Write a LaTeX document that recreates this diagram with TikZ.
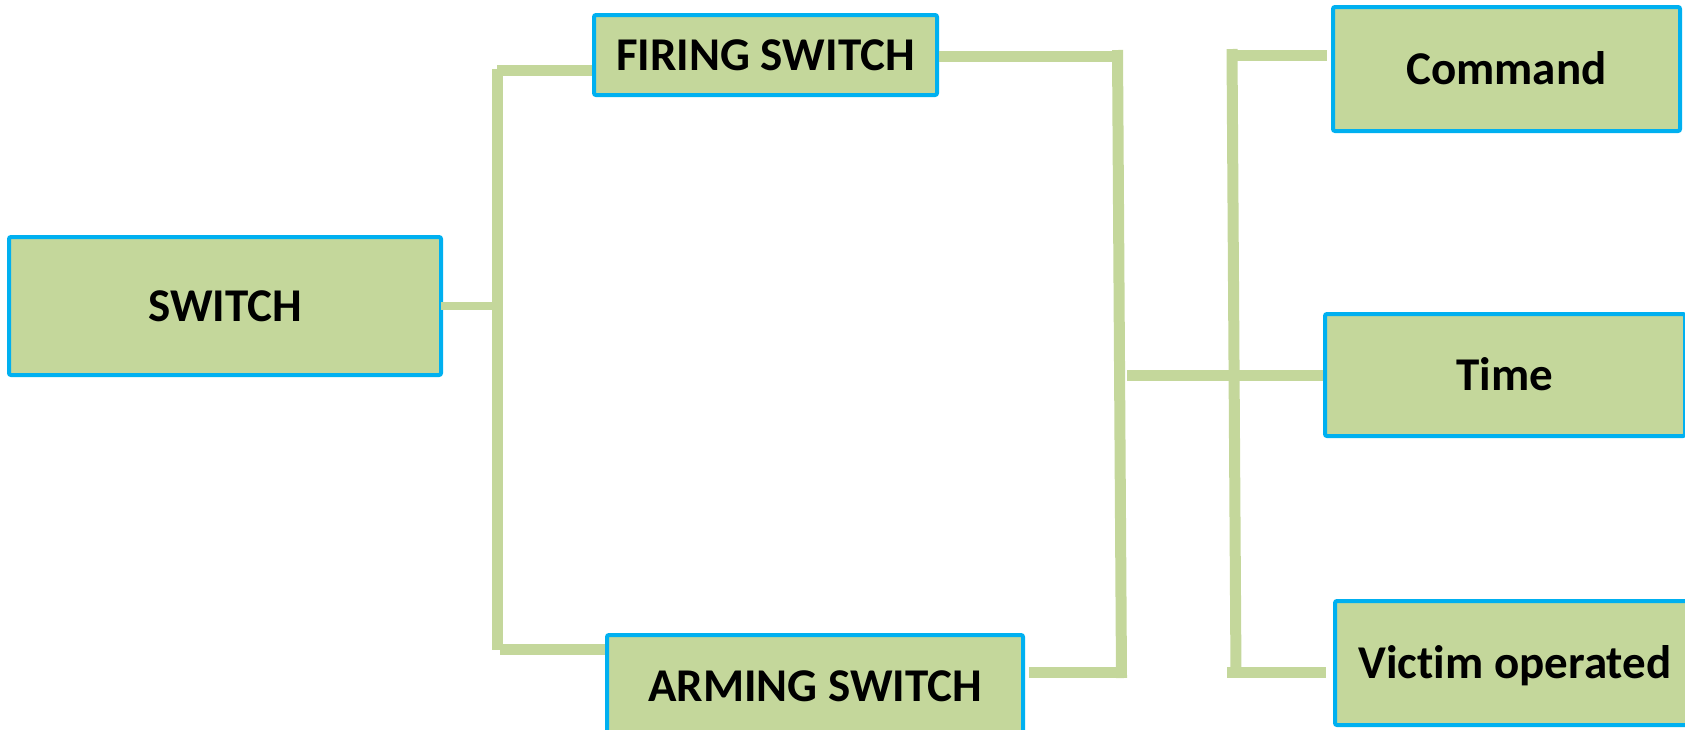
\documentclass[tikz,border=0pt]{standalone}
\usepackage{fontspec}
\setmainfont{Carlito}[Ligatures={NoCommon},RawFeature={-liga;-clig;-dlig;-calt}]
\definecolor{boxgreen}{HTML}{C4D79B}
\definecolor{boxblue}{HTML}{00B0F0}
\tikzset{
  box/.style={draw=boxblue, line width=2pt, fill=boxgreen, rounded corners=1pt,
    inner sep=0pt, font=\bfseries\fontsize{23.5}{28}\selectfont,
    text height=15.1pt, text depth=0pt},
  link/.style={draw=boxgreen, line width=5.5pt, line cap=butt},
  stub/.style={draw=boxgreen, line width=4pt, line cap=butt},
}
\begin{document}
\begin{tikzpicture}[x=0.5pt,y=-0.5pt]
\useasboundingbox (0,0) rectangle (1685,729);
\clip (0,0) rectangle (1685,729);
% boxes
\node[box, minimum width=216pt, minimum height=69pt] (sw) at (225,306) {SWITCH};
\node[box, minimum width=171.5pt, minimum height=40pt] (fire) at (765.5,55) {FIRING SWITCH};
\node[box, minimum width=208pt, minimum height=51pt] (arm) at (815,686) {ARMING SWITCH};
\node[box, minimum width=173.5pt, minimum height=62pt] (cmd) at (1506.5,69) {Command};
\node[box, minimum width=180pt, minimum height=61pt] (time) at (1505,375) {Time};
\node[box, minimum width=180pt, minimum height=62pt] (vic) at (1515,663) {Vict\kern0pt im operated};
% junction coordinates
\coordinate (l0) at (497,306);
\coordinate (lt) at (497,69);
\coordinate (lb) at (497,649.5);
\coordinate (lt2) at (497,70);
\coordinate (lb2) at (500,649.5);
\coordinate (mt) at (1117.5,50);
\coordinate (mb) at (1121.5,678);
\coordinate (mf) at (1123,56);
\coordinate (ma) at (1127,672);
\coordinate (mm) at (1127,375);
\coordinate (rt) at (1232,49);
\coordinate (rb) at (1236,677);
\coordinate (rt2) at (1227,55);
\coordinate (rb2) at (1227,672);
\coordinate (ce) at (1327,55);
\coordinate (ve) at (1326,672);
% left bracket
\draw[stub] ([xshift=-1pt]sw.east) -- (l0);
\draw[link] (lt) -- (lb);
\draw[link] (lt2) -- (lt2 -| fire.west);
\draw[link] (lb2) -- (lb2 -| arm.west);
% middle bracket
\draw[link] (fire.east |- mf) -- (mf);
\draw[link] (mt) -- (mb);
\draw[link] ([xshift=2pt]arm.east |- ma) -- (ma);
\draw[link] (mm) -- (mm -| time.west);
% right bracket
\draw[link] (rt) -- (rb);
\draw[link] (rt2) -- (ce);
\draw[link] (rb2) -- (ve);
\end{tikzpicture}
\end{document}
